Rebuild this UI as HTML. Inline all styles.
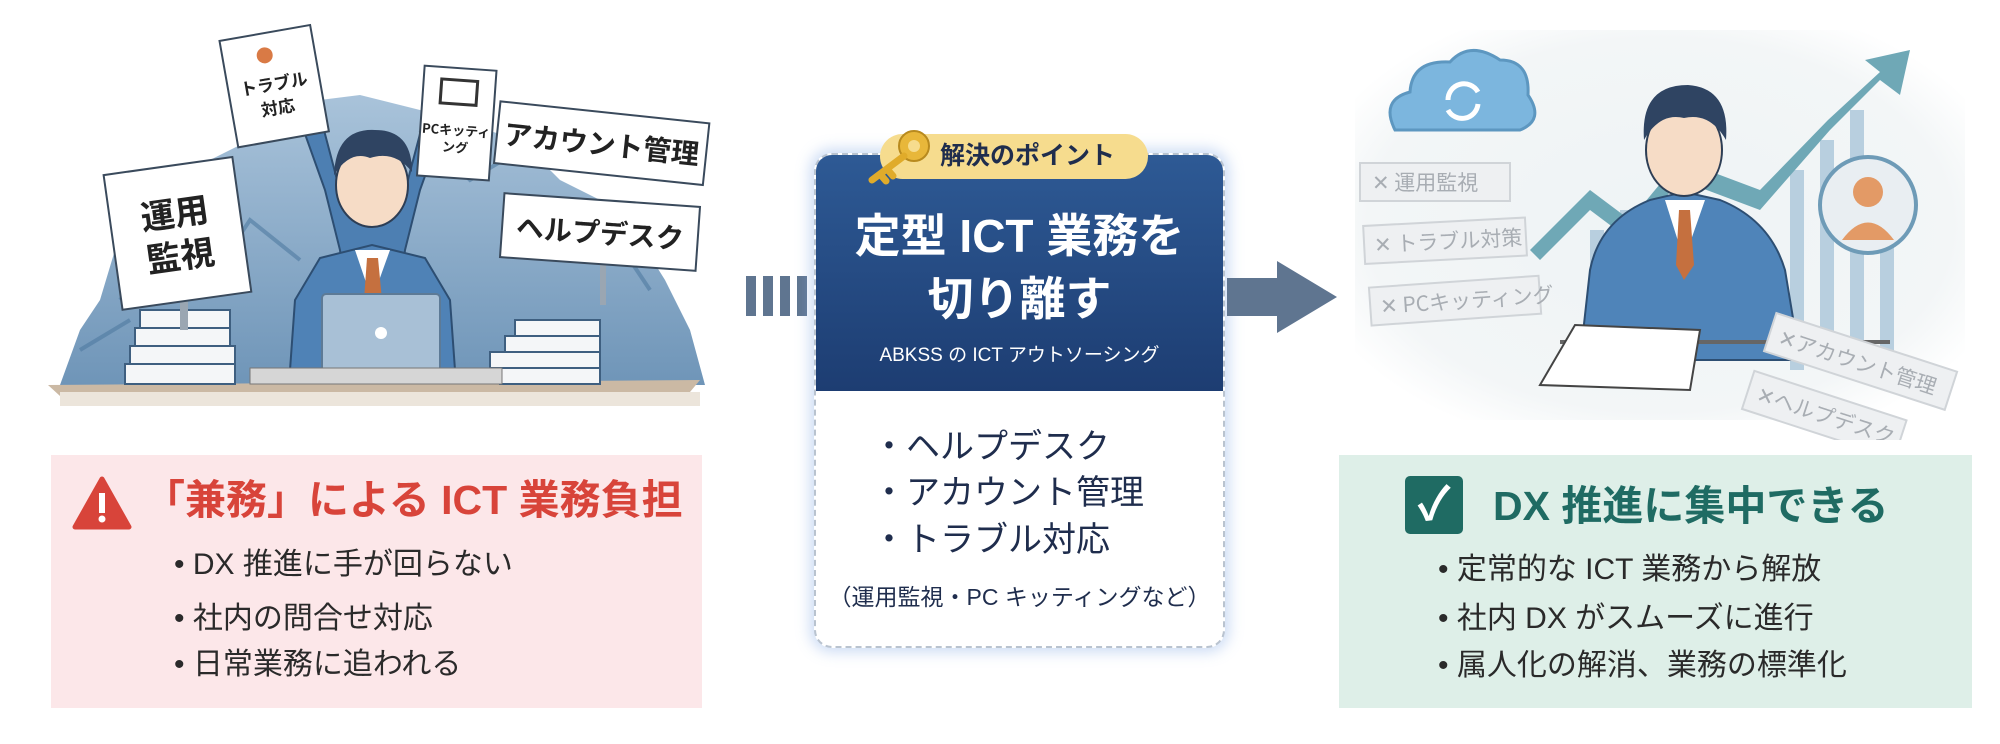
<!DOCTYPE html>
<html><head><meta charset="utf-8">
<style>
*{margin:0;padding:0;box-sizing:border-box}
body{width:2000px;height:744px;background:#fff;position:relative;overflow:hidden;font-family:"Liberation Sans","Noto Sans CJK JP",sans-serif}
.abs{position:absolute}
.box{position:absolute}
.li{position:absolute;white-space:nowrap}
</style></head><body>

<!-- LEFT ILLUSTRATION -->
<svg class="abs" style="left:0;top:0" width="760" height="440" viewBox="0 0 760 440">
  <defs>
    <linearGradient id="mt" x1="0" y1="0" x2="0" y2="1"><stop offset="0" stop-color="#a9c3da"/><stop offset="1" stop-color="#6f95b8"/></linearGradient>
  </defs>
  <path d="M60 385 L80 330 L100 300 L115 250 L150 200 L190 170 L230 150 L270 130 L320 100 L360 95 L420 110 L470 125 L520 140 L560 180 L600 200 L640 240 L665 280 L690 330 L705 385 Z" fill="url(#mt)"/>
  <path d="M120 300 L170 240 L210 280 L250 220 L300 260 M560 250 L610 230 L650 290 M420 130 L470 180 L520 150 M80 350 L130 320" stroke="#4f7aa0" stroke-width="4" fill="none" opacity=".6"/>
  <!-- desk -->
  <path d="M48 385 L700 380 L690 392 L60 396 Z" fill="#cbb9a4"/>
  <rect x="60" y="392" width="640" height="14" fill="#ece5db"/>
  <!-- paper stacks -->
  <g fill="#f4f6f8" stroke="#3e5f80" stroke-width="2">
    <rect x="140" y="310" width="90" height="18"/><rect x="135" y="328" width="95" height="18"/><rect x="130" y="346" width="105" height="18"/><rect x="125" y="364" width="110" height="20"/>
    <rect x="515" y="320" width="85" height="16"/><rect x="505" y="336" width="95" height="16"/><rect x="490" y="352" width="110" height="16"/><rect x="500" y="368" width="100" height="16"/>
  </g>
  <!-- person -->
  <path d="M300 120 L325 190 L340 250 L345 290 L400 290 L405 250 L420 190 L445 120 L425 115 L400 210 L345 210 L320 115 Z" fill="#4d7fb2" stroke="#2d4e72" stroke-width="2"/>
  <path d="M290 370 L295 300 L320 258 L372 245 L425 258 L450 300 L455 370 Z" fill="#4f82b6" stroke="#2d4e72" stroke-width="2"/>
  <path d="M355 250 L372 300 L390 250 Z" fill="#fff"/>
  <path d="M367 258 L378 258 L382 300 L372 312 L364 300 Z" fill="#c5703f"/>
  <ellipse cx="372" cy="185" rx="36" ry="42" fill="#f6dcc6" stroke="#2d3e55" stroke-width="2"/>
  <path d="M334 175 Q336 128 375 130 Q412 130 412 172 Q395 150 370 158 Q350 150 334 175Z" fill="#2f4462"/>
  <!-- laptop -->
  <rect x="322" y="294" width="118" height="78" rx="4" fill="#a8c0d6" stroke="#5d7a96" stroke-width="2"/>
  <circle cx="381" cy="333" r="6" fill="#fff"/>
  <rect x="250" y="368" width="252" height="16" fill="#d6d6d6" stroke="#777" stroke-width="1"/>
  <!-- sign posts -->
  <rect x="180" y="290" width="8" height="40" fill="#9aa6b2"/>
  <rect x="600" y="265" width="6" height="40" fill="#9aa6b2"/>
  <!-- signs -->
  <g transform="rotate(-8 180 230)"><rect x="112" y="165" width="130" height="136" fill="#fff" stroke="#3a4a5c" stroke-width="2"/>
    <text x="177" y="225" font-size="34" font-weight="bold" text-anchor="middle" fill="#222" font-family="Noto Sans CJK JP">運用</text>
    <text x="177" y="268" font-size="34" font-weight="bold" text-anchor="middle" fill="#222" font-family="Noto Sans CJK JP">監視</text></g>
  <g transform="rotate(6 600 140)"><rect x="497" y="112" width="210" height="62" fill="#fff" stroke="#3a4a5c" stroke-width="2"/>
    <text x="602" y="154" font-size="28" font-weight="bold" text-anchor="middle" fill="#222" font-family="Noto Sans CJK JP">アカウント管理</text></g>
  <g transform="rotate(4 600 232)"><rect x="502" y="200" width="196" height="64" fill="#fff" stroke="#3a4a5c" stroke-width="2"/>
    <text x="600" y="243" font-size="28" font-weight="bold" text-anchor="middle" fill="#222" font-family="Noto Sans CJK JP">ヘルプデスク</text></g>
  <g transform="rotate(-10 275 85)"><rect x="228" y="32" width="92" height="108" fill="#fff" stroke="#3a4a5c" stroke-width="2"/>
    <circle cx="270" cy="54" r="8" fill="#d97a45"/>
    <text x="274" y="90" font-size="17" font-weight="bold" text-anchor="middle" fill="#222" font-family="Noto Sans CJK JP">トラブル</text>
    <text x="274" y="114" font-size="17" font-weight="bold" text-anchor="middle" fill="#222" font-family="Noto Sans CJK JP">対応</text></g>
  <g transform="rotate(4 456 105)"><rect x="422" y="68" width="72" height="110" fill="#fff" stroke="#3a4a5c" stroke-width="2"/>
    <rect x="440" y="80" width="36" height="24" fill="#fff" stroke="#333" stroke-width="3"/>
    <text x="458" y="135" font-size="13" font-weight="bold" text-anchor="middle" fill="#222" font-family="Noto Sans CJK JP">PCキッティ</text>
    <text x="458" y="152" font-size="13" font-weight="bold" text-anchor="middle" fill="#222" font-family="Noto Sans CJK JP">ング</text></g>
</svg>

<!-- PINK BOX -->
<div class="box" style="left:51px;top:455px;width:651px;height:253px;background:#fce7e9"></div>
<svg class="abs" style="left:72px;top:476px" width="60" height="54"><path d="M30 3 L57 51 L3 51 Z" fill="#d8443a" stroke="#d8443a" stroke-width="5" stroke-linejoin="round"/><rect x="27" y="17" width="6" height="20" fill="#fff"/><circle cx="30" cy="43" r="3.5" fill="#fff"/></svg>
<div class="li" style="left:144px;top:470px;font-size:41px;font-weight:bold;color:#d8443a;line-height:60px">「兼務」による ICT 業務負担</div>
<div class="li" style="left:174px;top:545px;font-size:30px;color:#2a2a2a;line-height:40px">• DX 推進に手が回らない</div>
<div class="li" style="left:174px;top:599px;font-size:30px;color:#2a2a2a;line-height:40px">• 社内の問合せ対応</div>
<div class="li" style="left:174px;top:645px;font-size:30px;color:#2a2a2a;line-height:40px">• 日常業務に追われる</div>

<!-- DOTTED BARS -->
<div class="box" style="left:746px;top:276px;width:10px;height:40px;background:#5f7590"></div>
<div class="box" style="left:763px;top:276px;width:10px;height:40px;background:#5f7590"></div>
<div class="box" style="left:780px;top:276px;width:10px;height:40px;background:#5f7590"></div>
<div class="box" style="left:797px;top:276px;width:10px;height:40px;background:#5f7590"></div>

<!-- CENTER CARD -->
<div class="box" style="left:814px;top:153px;width:411px;height:495px;border-radius:18px;background:#fff;border:2px dashed #b9c3cf;box-shadow:0 0 14px 4px rgba(140,175,230,.45);overflow:hidden">
  <div style="position:absolute;left:-2px;top:-2px;width:411px;height:238px;background:linear-gradient(#2e5a95,#1d3d72)"></div>
</div>
<div class="li" style="left:814px;top:208px;width:411px;text-align:center;font-size:46px;font-weight:bold;color:#fff;line-height:56px">定型 ICT 業務を</div>
<div class="li" style="left:814px;top:271px;width:411px;text-align:center;font-size:46px;font-weight:bold;color:#fff;line-height:56px">切り離す</div>
<div class="li" style="left:814px;top:343px;width:411px;text-align:center;font-size:19px;color:#fff;line-height:26px">ABKSS の ICT アウトソーシング</div>
<div class="li" style="left:872px;top:425px;font-size:34px;color:#1f2d4d;line-height:44px">・ヘルプデスク</div>
<div class="li" style="left:872px;top:471px;font-size:34px;color:#1f2d4d;line-height:44px">・アカウント管理</div>
<div class="li" style="left:872px;top:518px;font-size:34px;color:#1f2d4d;line-height:44px">・トラブル対応</div>
<div class="li" style="left:814px;top:582px;width:411px;text-align:center;font-size:23px;color:#1f2d4d;line-height:30px">（運用監視・PC キッティングなど）</div>
<!-- badge -->
<div class="box" style="left:880px;top:134px;width:268px;height:45px;border-radius:23px;background:#f6dc8e"></div>
<div class="li" style="left:940px;top:136px;font-size:25px;font-weight:bold;color:#1f2d4d;line-height:40px">解決のポイント</div>
<svg class="abs" style="left:862px;top:124px" width="76" height="62"><circle cx="52" cy="22" r="15" fill="#e8b73a" stroke="#b88a1e" stroke-width="2"/><circle cx="52" cy="22" r="6" fill="#f6dc8e"/><path d="M42 32 L10 56 M18 50 L24 57 M25 45 L31 52" stroke="#e0ab2a" stroke-width="7" stroke-linecap="round"/></svg>

<!-- ARROW -->
<svg class="abs" style="left:1225px;top:258px" width="115" height="78"><path d="M2 20 L52 20 L52 3 L112 39 L52 75 L52 58 L2 58 Z" fill="#5f7590"/></svg>

<!-- RIGHT ILLUSTRATION -->
<svg class="abs" style="left:1340px;top:20px" width="640" height="420" viewBox="1340 20 640 420">
  <defs><radialGradient id="bg2" cx=".5" cy=".5" r=".6"><stop offset="0" stop-color="#eef3f5"/><stop offset=".8" stop-color="#f3f6f7"/><stop offset="1" stop-color="#ffffff"/></radialGradient></defs>
  <rect x="1355" y="30" width="610" height="390" rx="30" fill="url(#bg2)"/>
  <!-- chart bars -->
  <g fill="#b8cfdf"><rect x="1590" y="230" width="14" height="140"/><rect x="1620" y="210" width="14" height="160"/><rect x="1790" y="170" width="14" height="200"/><rect x="1820" y="140" width="14" height="230"/><rect x="1850" y="110" width="14" height="260"/><rect x="1880" y="180" width="14" height="190"/></g>
  <path d="M1540 260 L1590 210 L1630 240 L1680 180 L1760 210 L1830 130 L1880 80 L1900 95 L1910 50 L1865 60 L1880 72 L1828 120 L1760 190 L1680 160 L1630 220 L1590 190 L1530 250 Z" fill="#6fa8b6"/>
  <!-- cloud -->
  <path d="M1395 130 Q1380 100 1410 92 Q1412 60 1450 62 Q1470 40 1500 60 Q1530 60 1528 95 Q1545 120 1520 130 Z" fill="#7cb6de" stroke="#5d97c0" stroke-width="3"/>
  <path d="M1448 100 A16 16 0 0 1 1478 92 M1478 104 A16 16 0 0 1 1448 110" stroke="#fff" stroke-width="5" fill="none"/>
  <!-- person avatar circle -->
  <circle cx="1868" cy="205" r="48" fill="#e9eef2" stroke="#6e9bb7" stroke-width="4"/>
  <circle cx="1868" cy="192" r="15" fill="#e39a66"/><path d="M1842 240 Q1868 205 1894 240 Z" fill="#e39a66"/>
  <!-- person body -->
  <path d="M1580 360 L1590 270 Q1600 220 1650 200 L1684 192 L1720 200 Q1770 220 1785 270 L1800 360 Z" fill="#4f84b9" stroke="#2d4e72" stroke-width="2"/>
  <path d="M1665 200 L1684 260 L1705 200 Z" fill="#fff"/>
  <path d="M1679 210 L1690 210 L1694 265 L1684 280 L1676 265 Z" fill="#c5703f"/>
  <ellipse cx="1684" cy="150" rx="38" ry="46" fill="#f6dcc6" stroke="#2d3e55" stroke-width="2"/>
  <path d="M1644 140 Q1640 85 1688 85 Q1730 88 1726 140 Q1710 112 1684 118 Q1660 112 1644 140Z" fill="#2f4462"/>
  <!-- desk & paper -->
  <rect x="1560" y="340" width="330" height="4" fill="#666"/>
  <path d="M1540 385 L1575 325 L1700 330 L1690 390 Z" fill="#fff" stroke="#444" stroke-width="2"/>
  <!-- tags -->
  <g font-family="Noto Sans CJK JP" font-size="21" fill="#a8adb3">
    <rect x="1360" y="163" width="150" height="38" fill="#eef0f2" stroke="#d0d4d8" stroke-width="2"/><text x="1372" y="190">✕ 運用監視</text>
    <g transform="rotate(-3 1440 240)"><rect x="1364" y="222" width="162" height="38" fill="#eef0f2" stroke="#d0d4d8" stroke-width="2"/><text x="1374" y="249">✕ トラブル対策</text></g>
    <g transform="rotate(-4 1450 300)"><rect x="1370" y="282" width="170" height="38" fill="#eef0f2" stroke="#d0d4d8" stroke-width="2"/><text x="1380" y="309">✕ PCキッティング</text></g>
    <g transform="rotate(18 1840 360)"><rect x="1765" y="335" width="190" height="40" fill="#eef0f2" stroke="#d0d4d8" stroke-width="2"/><text x="1775" y="364">✕アカウント管理</text></g>
    <g transform="rotate(18 1810 410)"><rect x="1745" y="390" width="160" height="40" fill="#eef0f2" stroke="#d0d4d8" stroke-width="2"/><text x="1755" y="418">✕ヘルプデスク</text></g>
  </g>
</svg>

<!-- GREEN BOX -->
<div class="box" style="left:1339px;top:455px;width:633px;height:253px;background:#deefe8"></div>
<div class="box" style="left:1405px;top:476px;width:58px;height:58px;border-radius:5px;background:#1f6b63"></div>
<div class="li" style="left:1405px;top:474px;width:58px;text-align:center;font-size:46px;font-weight:bold;color:#fff;line-height:60px">✓</div>
<div class="li" style="left:1493px;top:476px;font-size:41px;font-weight:bold;color:#1f6b63;line-height:60px">DX 推進に集中できる</div>
<div class="li" style="left:1438px;top:550px;font-size:30px;color:#2a2a2a;line-height:40px">• 定常的な ICT 業務から解放</div>
<div class="li" style="left:1438px;top:599px;font-size:30px;color:#2a2a2a;line-height:40px">• 社内 DX がスムーズに進行</div>
<div class="li" style="left:1438px;top:646px;font-size:30px;color:#2a2a2a;line-height:40px">• 属人化の解消、業務の標準化</div>

</body></html>
